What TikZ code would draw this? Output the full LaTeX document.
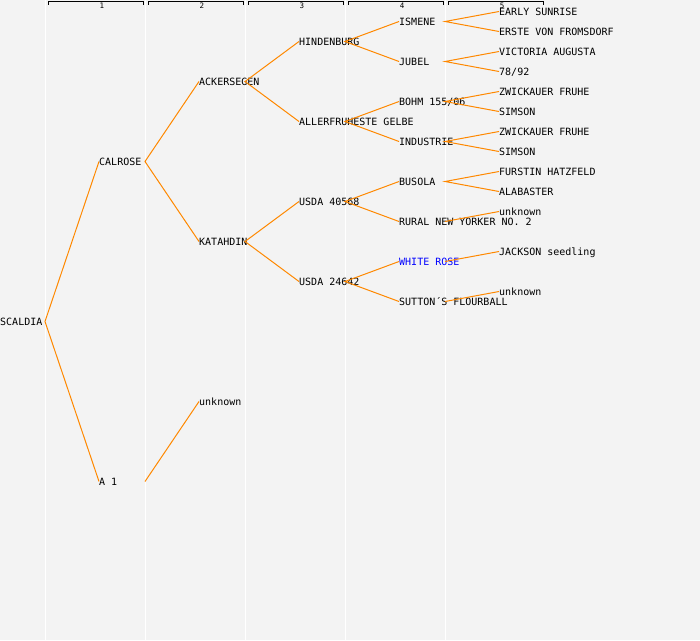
\documentclass[tikz,border=0pt]{standalone}
\usepackage{fontspec}
\setmonofont{DejaVu Sans Mono}
\definecolor{bggray}{RGB}{243,243,243}
\definecolor{lineorange}{RGB}{255,136,0}

\begin{document}
\begin{tikzpicture}[x=1pt, y=-1pt,
    pname/.style={anchor=west, inner sep=0pt, text height=7pt, text depth=0pt,
      font=\ttfamily\fontsize{10pt}{12pt}\selectfont},
    link/.style={lineorange, line width=1pt}]
    \fill[bggray] (0, 0) rectangle (700, 640);
    \useasboundingbox (0, 0) rectangle (700, 640);
    % column separators and generation headers
    \foreach \i in {1,...,5} {
      \coordinate (c\i) at ({45+100*(\i-1)}, 0);
      \draw[white, line width=1pt] (c\i) -- ++(0, 640);
      \draw[line width=0.9pt] ({48+100*(\i-1)}, 4.5) -- ++(0, -3) -- ++(95, 0) -- ++(0, 3);
      \node[inner sep=0pt, font=\ttfamily\fontsize{7.5pt}{8pt}\selectfont] (h\i) at ({102+100*(\i-1)}, 5.8) {\i};
    }
    % generation 0 and 1
    \node[pname] (scaldia) at (0, 321.5) {SCALDIA};
    \node[pname] (calrose) at (99, 161.5) {CALROSE};
    \node[pname] (a1) at (99, 481.5) {A 1};
    % generation 2
    \node[pname] (ackersegen) at (199, 81.5) {ACKERSEGEN};
    \node[pname] (katahdin) at (199, 241.5) {KATAHDIN};
    \node[pname] (unknownA) at (199, 401.5) {unknown};
    % generation 3
    \node[pname] (hindenburg) at (299, 41.5) {HINDENBURG};
    \node[pname] (allerfruheste) at (299, 121.5) {ALLERFRUHESTE GELBE};
    \node[pname] (usdaA) at (299, 201.5) {USDA 40568};
    \node[pname] (usdaB) at (299, 281.5) {USDA 24642};
    % generation 4
    \node[pname] (ismene) at (399, 21.5) {ISMENE};
    \node[pname] (jubel) at (399, 61.5) {JUBEL};
    \node[pname] (bohm) at (399, 101.5) {BOHM 155/06};
    \node[pname] (industrie) at (399, 141.5) {INDUSTRIE};
    \node[pname] (busola) at (399, 181.5) {BUSOLA};
    \node[pname] (rural) at (399, 221.5) {RURAL NEW YORKER NO. 2};
    \node[pname, text=blue] (whiterose) at (399, 261.5) {WHITE ROSE};
    \node[pname] (sutton) at (399, 301.5) {SUTTON´S FLOURBALL};
    % generation 5
    \node[pname] (early) at (499, 11.5) {EARLY SUNRISE};
    \node[pname] (erste) at (499, 31.5) {ERSTE VON FROMSDORF};
    \node[pname] (victoria) at (499, 51.5) {VICTORIA AUGUSTA};
    \node[pname] (n7892) at (499, 71.5) {78/92};
    \node[pname] (zwickA) at (499, 91.5) {ZWICKAUER FRUHE};
    \node[pname] (simsonA) at (499, 111.5) {SIMSON};
    \node[pname] (zwickB) at (499, 131.5) {ZWICKAUER FRUHE};
    \node[pname] (simsonB) at (499, 151.5) {SIMSON};
    \node[pname] (furstin) at (499, 171.5) {FURSTIN HATZFELD};
    \node[pname] (alabaster) at (499, 191.5) {ALABASTER};
    \node[pname] (unknownB) at (499, 211.5) {unknown};
    \node[pname] (jackson) at (499, 251.5) {JACKSON seedling};
    \node[pname] (unknownC) at (499, 291.5) {unknown};
    % parent links
    \draw[link] (calrose.west) -- (scaldia.west -| c1) -- (a1.west);
    \draw[link] (ackersegen.west) -- (calrose.west -| c2) -- (katahdin.west);
    \draw[link] (a1.west -| c2) -- (unknownA.west);
    \draw[link] (hindenburg.west) -- (ackersegen.west -| c3) -- (allerfruheste.west);
    \draw[link] (usdaA.west) -- (katahdin.west -| c3) -- (usdaB.west);
    \draw[link] (ismene.west) -- (hindenburg.west -| c4) -- (jubel.west);
    \draw[link] (bohm.west) -- (allerfruheste.west -| c4) -- (industrie.west);
    \draw[link] (busola.west) -- (usdaA.west -| c4) -- (rural.west);
    \draw[link] (whiterose.west) -- (usdaB.west -| c4) -- (sutton.west);
    \draw[link] (early.west) -- (ismene.west -| c5) -- (erste.west);
    \draw[link] (victoria.west) -- (jubel.west -| c5) -- (n7892.west);
    \draw[link] (zwickA.west) -- (bohm.west -| c5) -- (simsonA.west);
    \draw[link] (zwickB.west) -- (industrie.west -| c5) -- (simsonB.west);
    \draw[link] (furstin.west) -- (busola.west -| c5) -- (alabaster.west);
    \draw[link] (rural.west -| c5) -- (unknownB.west);
    \draw[link] (whiterose.west -| c5) -- (jackson.west);
    \draw[link] (sutton.west -| c5) -- (unknownC.west);
\end{tikzpicture}
\end{document}
